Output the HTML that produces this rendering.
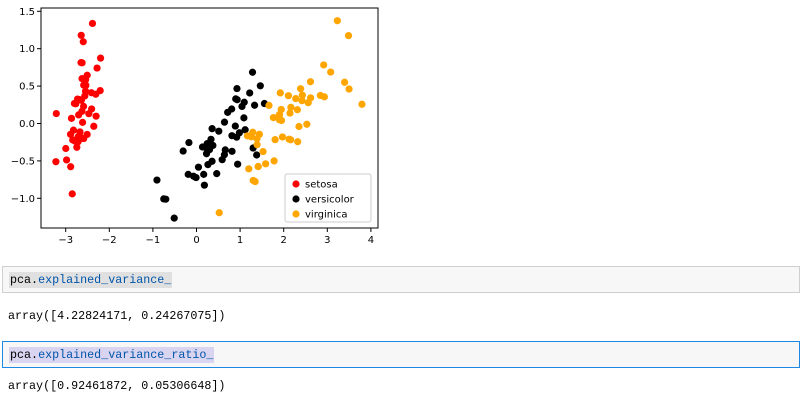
<!DOCTYPE html>
<html><head><meta charset="utf-8">
<style>
body{margin:0;width:802px;height:401px;background:#fff;overflow:hidden;position:relative;font-family:"Liberation Sans",sans-serif}
.cell{position:absolute;left:2px;width:798px;height:27px;background:#f7f7f7;border:1px solid #cfcfcf;box-sizing:border-box}
.code{position:absolute;left:6px;top:5px;font:11.7px "Liberation Mono",monospace;line-height:16px;padding:0 1px}
.out{position:absolute;left:8px;font:11.7px "Liberation Mono",monospace;color:#000}
.kw{color:#0055aa}
</style></head><body>
<svg width="802" height="260" style="position:absolute;left:0;top:0">
<g id="plot"></g>
</svg>
<div class="cell" style="top:266px">
<span class="code" style="background:#e0e0e0">pca.<span class="kw">explained_variance_</span></span></div>
<div class="out" style="top:309px">array([4.22824171, 0.24267075])</div>
<div class="cell" style="top:341px;border-color:#1e88e5;background:#f7f7f7">
<span class="code" style="background:#d9d5f0">pca.<span class="kw">explained_variance_ratio_</span></span></div>
<div class="out" style="top:379px">array([0.92461872, 0.05306648])</div>
<script>
const setosaX=[-2.684,-2.714,-2.889,-2.745,-2.729,-2.281,-2.821,-2.626,-2.886,-2.673,-2.507,-2.613,-2.787,-3.225,-2.644,-2.386,-2.624,-2.648,-2.200,-2.588,-2.310,-2.544,-3.216,-2.303,-2.356,-2.508,-2.469,-2.562,-2.640,-2.633,-2.587,-2.410,-2.648,-2.597,-2.673,-2.867,-2.625,-2.800,-2.980,-2.590,-2.770,-2.850,-2.998,-2.406,-2.209,-2.715,-2.538,-2.839,-2.543,-2.703];
const setosaY=[0.319,-0.177,-0.145,-0.318,0.327,0.741,-0.089,0.163,-0.578,-0.114,0.645,0.015,-0.235,-0.511,1.179,1.338,0.811,0.312,0.874,0.514,0.391,0.433,0.133,0.098,-0.037,-0.146,0.131,0.368,0.312,-0.196,-0.201,0.411,0.814,1.093,-0.114,0.069,0.600,0.268,-0.487,0.229,0.263,-0.941,-0.334,0.195,0.440,-0.243,0.510,-0.220,0.586,0.115];
const versiX=[1.285,0.932,1.464,0.181,1.087,0.640,1.095,-0.751,1.043,-0.010,-0.511,0.511,0.262,0.984,-0.174,0.928,0.660,0.236,0.944,0.045,1.116,0.358,1.298,0.921,0.715,0.900,1.332,1.558,0.813,-0.306,-0.068,-0.190,0.137,1.380,0.589,0.807,1.220,0.815,0.246,0.165,0.464,0.890,0.230,-0.705,0.357,0.332,0.376,0.642,-0.907,0.299];
const versiY=[0.685,0.318,0.504,-0.825,0.075,-0.418,0.284,-1.008,0.228,-0.723,-1.265,-0.103,-0.550,-0.124,-0.255,0.467,-0.353,-0.333,-0.544,-0.584,-0.084,-0.069,-0.328,-0.183,0.149,0.329,0.244,0.267,-0.163,-0.368,-0.705,-0.680,-0.314,-0.421,-0.484,0.194,0.408,-0.372,-0.269,-0.680,-0.670,-0.034,-0.404,-1.012,-0.505,-0.212,-0.293,0.018,-0.756,-0.349];
const virgX=[2.531,1.415,2.617,1.971,2.350,3.397,0.521,2.933,2.321,2.917,1.662,1.803,2.165,1.345,1.585,1.905,1.950,3.487,3.795,1.300,2.428,1.199,3.499,1.388,2.276,2.614,1.258,1.291,2.123,2.388,2.842,3.231,2.159,1.443,1.780,3.077,2.144,1.905,1.169,2.108,2.314,1.922,1.415,2.563,2.419,1.944,1.527,1.764,1.901,1.390];
const virgY=[-0.010,-0.575,0.343,-0.180,-0.040,0.551,-1.193,0.356,-0.244,0.783,0.242,-0.216,0.216,-0.776,-0.539,0.119,0.041,1.175,0.257,-0.761,0.378,-0.606,0.461,-0.204,0.333,0.558,-0.179,-0.117,-0.210,0.465,0.375,1.374,-0.218,-0.144,-0.500,0.688,0.140,0.049,-0.165,0.372,0.184,0.409,-0.575,0.278,0.305,0.188,-0.375,0.079,0.117,-0.283];
const xTicks=[-3,-2,-1,0,1,2,3,4];
const yTicks=[1.5,1.0,0.5,0.0,-0.5,-1.0];
const legendLabels=["setosa","versicolor","virginica"];
const colors=["#ff0000","#000000","#ffa500"];

const NS="http://www.w3.org/2000/svg";
const g=document.getElementById('plot');
const L=41,R=378,T=8,B=228;
const sx=v=>196.5+v*43.6;
const sy=v=>123.5-v*74.8;
function mk(tag,attrs){const e=document.createElementNS(NS,tag);for(const k in attrs)e.setAttribute(k,attrs[k]);g.appendChild(e);return e;}
const series=[[setosaX,setosaY],[versiX,versiY],[virgX,virgY]];
series.forEach((s,si)=>{s[0].forEach((x,i)=>{
  const c=mk('circle',{cx:sx(x),cy:sy(s[1][i]),r:3.6,fill:colors[si]});
  
  
});});
const fr=mk('rect',{x:L,y:T,width:R-L,height:B-T,fill:'none',stroke:'#000','stroke-width':1});


xTicks.forEach(t=>{
  mk('line',{x1:sx(t),x2:sx(t),y1:B,y2:B+4,stroke:'#000'});
  const tx=mk('text',{x:sx(t),y:B+15,'text-anchor':'middle','font-size':10,'font-family':'DejaVu Sans, sans-serif',fill:'#000'});
  tx.textContent=(t<0?'\u2212'+(-t):t);
  
  
});
yTicks.forEach(t=>{
  mk('line',{x1:L-4,x2:L,y1:sy(t),y2:sy(t),stroke:'#000'});
  const tx=mk('text',{x:L-6,y:sy(t)+3.5,'text-anchor':'end','font-size':10,'font-family':'DejaVu Sans, sans-serif',fill:'#000'});
  tx.textContent=(t<0?'\u2212':'')+Math.abs(t).toFixed(1);
  
  
});
const lg=mk('rect',{x:285,y:174,width:86,height:48,rx:2,fill:'#fff','fill-opacity':0.85,stroke:'#ccc'});


legendLabels.forEach((l,i)=>{
  const y=184+i*15;
  mk('circle',{cx:296,cy:y,r:3.6,fill:colors[i]});
  const t=mk('text',{x:305,y:y+3.5,'font-size':10,'font-family':'DejaVu Sans, sans-serif',fill:'#000'});
  t.textContent=l;
  
  
});
</script>
</body></html>
